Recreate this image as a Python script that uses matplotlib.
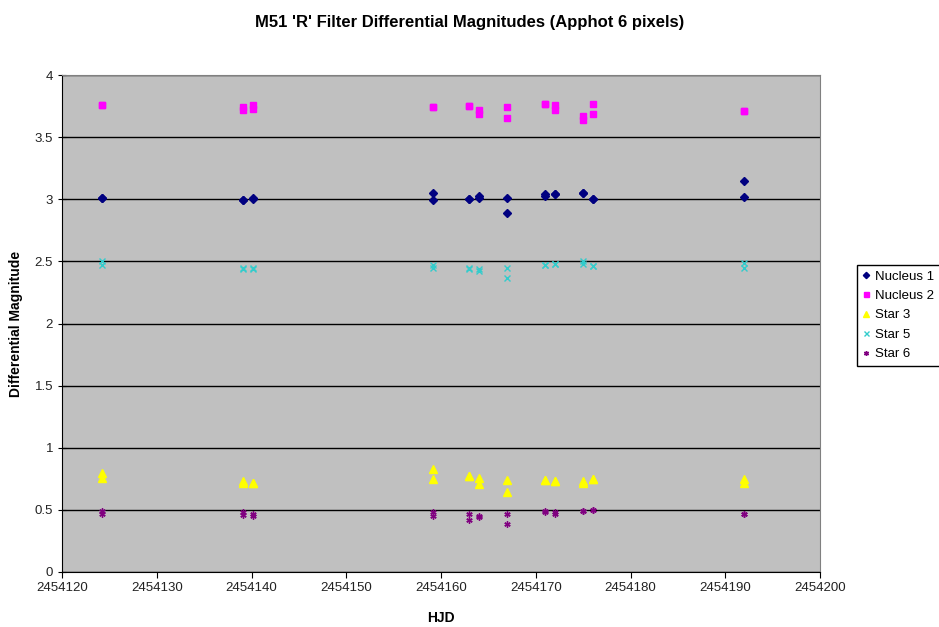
import numpy as np
import matplotlib.pyplot as plt

plt.rcParams['font.family'] = ['Liberation Sans', 'DejaVu Sans']

# observation dates (HJD), two measurements per night
hjd = [2454124.2, 2454124.2, 2454139.1, 2454139.1, 2454140.2, 2454140.2,
       2454159.2, 2454159.2, 2454163.0, 2454163.0, 2454164.0, 2454164.0,
       2454167.0, 2454167.0, 2454171.0, 2454171.0, 2454172.0, 2454172.0,
       2454175.0, 2454175.0, 2454176.0, 2454176.0, 2454192.0, 2454192.0]

nucleus1 = [3.01, 3.01, 2.99, 2.99, 3.00, 3.01,
            3.05, 2.99, 3.00, 3.00, 3.03, 3.01,
            3.01, 2.89, 3.04, 3.03, 3.04, 3.04,
            3.05, 3.05, 3.00, 3.00, 3.15, 3.02]
nucleus2 = [3.76, 3.76, 3.72, 3.74, 3.73, 3.76,
            3.74, 3.74, 3.75, 3.75, 3.72, 3.69,
            3.74, 3.65, 3.77, 3.77, 3.76, 3.72,
            3.67, 3.64, 3.77, 3.69, 3.71, 3.71]
star3 = [0.80, 0.76, 0.72, 0.73, 0.72, 0.72,
         0.83, 0.75, 0.77, 0.77, 0.76, 0.71,
         0.74, 0.64, 0.74, 0.74, 0.73, 0.73,
         0.73, 0.72, 0.75, 0.75, 0.75, 0.72]
star5 = [2.50, 2.47, 2.44, 2.45, 2.44, 2.45,
         2.47, 2.45, 2.44, 2.45, 2.44, 2.42,
         2.45, 2.37, 2.47, 2.47, 2.48, 2.48,
         2.50, 2.48, 2.46, 2.46, 2.49, 2.45]
star6 = [0.49, 0.47, 0.48, 0.46, 0.47, 0.45,
         0.48, 0.45, 0.47, 0.42, 0.45, 0.44,
         0.47, 0.39, 0.49, 0.48, 0.47, 0.48,
         0.49, 0.49, 0.50, 0.50, 0.47, 0.47]

series = [
    ('Nucleus 1', nucleus1, 'D', '#000080', 4),
    ('Nucleus 2', nucleus2, 's', '#FF00FF', 4.5),
    ('Star 3', star3, '^', '#FFFF00', 5.5),
    ('Star 5', star5, 'x', '#33CCCC', 4.5),
    ('Star 6', star6, (6, 2, 0), '#800080', 4.5),
]

fig = plt.figure(figsize=(9.39, 6.27), dpi=100)
ax = fig.add_axes([62/939, 55/627, 758/939, 497/627])
ax.set_facecolor('#C0C0C0')

for name, vals, mk, col, ms in series:
    ax.plot(hjd, vals, linestyle='none', marker=mk, color=col,
            markersize=ms, markeredgewidth=1, label=name, zorder=3)

ax.set_xlim(2454120, 2454200)
ax.set_ylim(0, 4)
ax.set_xticks(np.arange(2454120, 2454201, 10))
ax.set_yticks(np.arange(0, 4.01, 0.5))
ax.ticklabel_format(useOffset=False, style='plain')
ax.yaxis.set_major_formatter(plt.FuncFormatter(lambda v, p: f'{v:g}'))
ax.grid(axis='y', color='black', linewidth=1)
ax.set_axisbelow(True)
ax.tick_params(labelsize=9.5, length=4, direction='out', labelcolor='#222222')
ax.tick_params(axis='y', direction='inout', length=6)
for s in ax.spines.values():
    s.set_color('#808080')
ax.spines['left'].set_color('black')
ax.spines['bottom'].set_color('black')

ax.set_xlabel('HJD', fontsize=10, fontweight='bold', labelpad=12)
ax.set_ylabel('Differential Magnitude', fontsize=10, fontweight='bold', labelpad=8)
fig.text(0.5, 1 - 22/627, "M51 'R' Filter Differential Magnitudes (Apphot 6 pixels)",
         ha='center', va='center', fontsize=12, fontweight='bold')

leg = ax.legend(loc='upper left', bbox_to_anchor=(857/939, 1 - 265/627),
                bbox_transform=fig.transFigure, fontsize=9.5, frameon=True,
                fancybox=False, edgecolor='black', framealpha=1,
                handlelength=0.6, handletextpad=0.4, borderpad=0.4,
                labelspacing=0.55, markerscale=0.8, borderaxespad=0)
leg.get_frame().set_linewidth(1)

fig.savefig('out.png', dpi=100)
